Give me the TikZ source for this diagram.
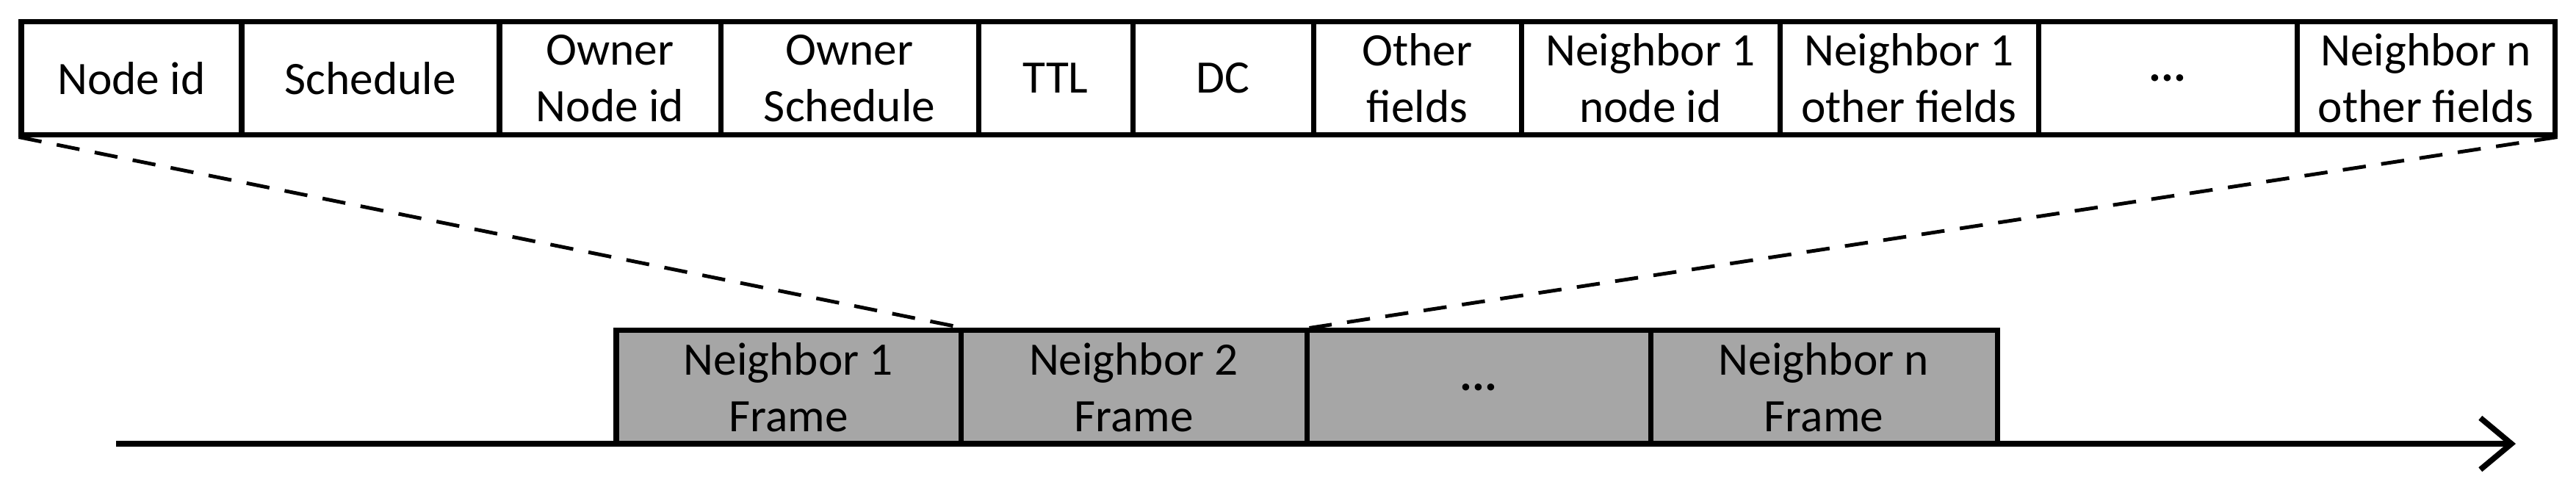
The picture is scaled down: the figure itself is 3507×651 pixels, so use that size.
\documentclass[tikz,border=0pt]{standalone}
\usepackage{fontspec}
\setmainfont{Carlito}
\usetikzlibrary{arrows.meta}
\begin{document}
\begin{tikzpicture}[x=0.01cm,y=-0.01cm,
  field/.style={draw,line width=2pt,inner sep=0pt,align=center,font=\fontsize{18}{22}\selectfont},
  frame/.style={field,fill=gray!70!white},
  dash line/.style={dashed,line width=1.4pt,dash pattern=on 9pt off 6pt}]
\useasboundingbox (0,0) rectangle (3507,651);
\def\topy{30}\def\boty{183}
\foreach \nm/\a/\b/\t in {f1/29/329/Node id, f2/329/680/Schedule, f3/680/981/Owner\\Node id, f4/981/1332/Owner\\Schedule, f5/1332/1542/TTL, f6/1542/1788/DC, f7/1788/2071/Other\\fields, f8/2071/2423/Neighbor 1\\node id, f9/2423/2775/Neighbor 1\\other fields, f10/2775/3127/\textbf{...}, f11/3127/3478/Neighbor n\\other fields}
  \node[field,minimum width={(\b-\a)*0.01cm},minimum height=1.53cm] (\nm) at ({(\a+\b)/2},106.5) {\t};
\foreach \nm/\a/\b/\t in {n1/839/1308/Neighbor 1\\Frame, n2/1308/1779/Neighbor 2\\Frame, n3/1779/2247/\textbf{...}, n4/2247/2719/Neighbor n\\Frame}
  \node[frame,minimum width={(\b-\a)*0.01cm},minimum height=1.54cm] (\nm) at ({(\a+\b)/2},527) {\t};
\coordinate (s) at (158,604);
\coordinate (e) at (3425,604);
\draw[line width=2.2pt,-{Straight Barb[length=12pt,width=20pt,line width=2.2pt]}] (s) -- (e);
\draw[dash line] (f1.south west) -- (n1.north east);
\draw[dash line] (f11.south east) -- (n2.north east);
\end{tikzpicture}
\end{document}
